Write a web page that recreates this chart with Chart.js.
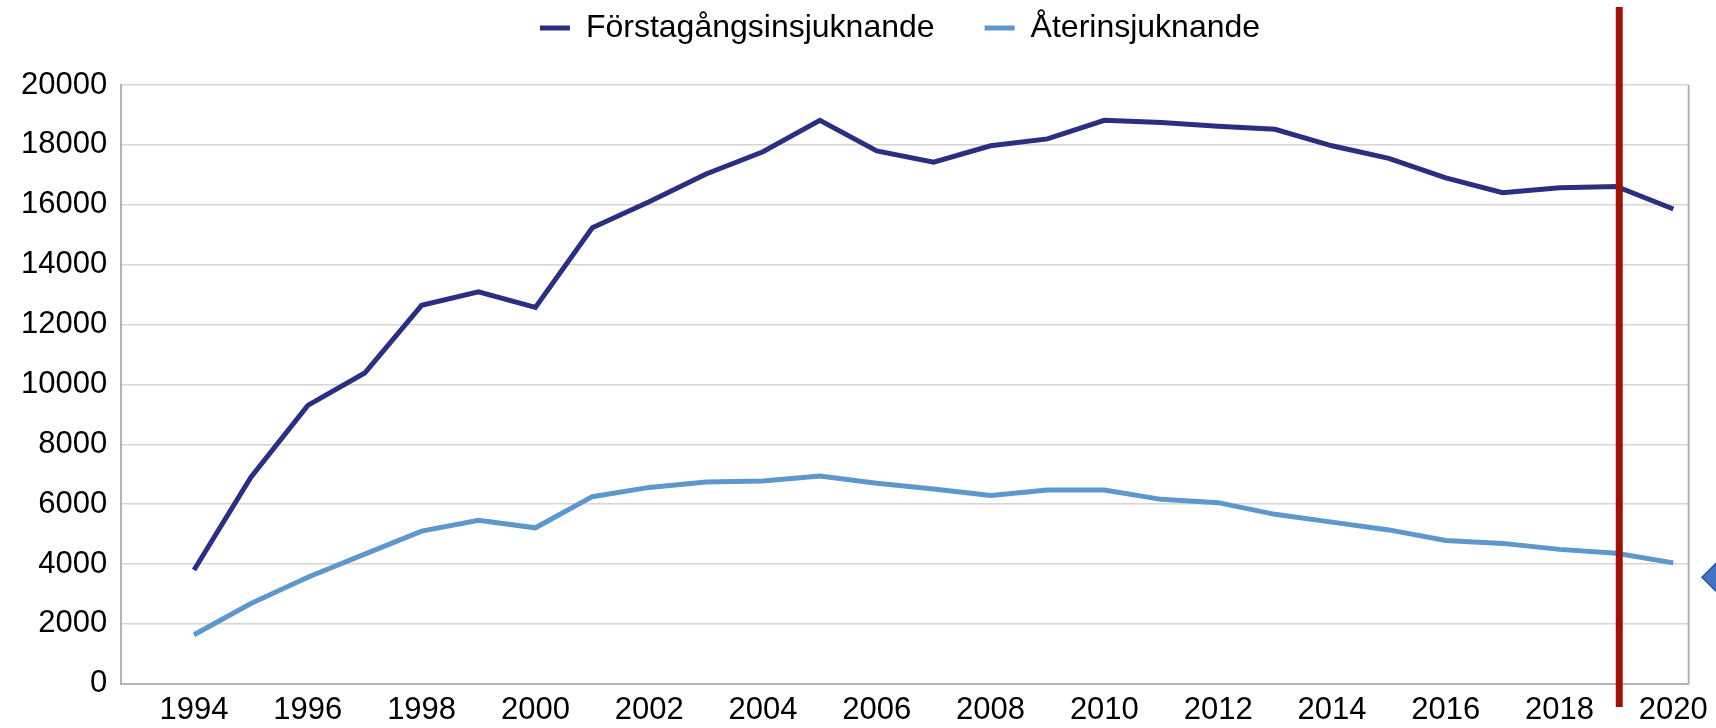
<!DOCTYPE html>
<html>
<head>
<meta charset="utf-8">
<script src="https://cdn.jsdelivr.net/npm/chart.js@4/dist/chart.umd.min.js"></script>
<style>
  html, body { margin: 0; padding: 0; background: #fff; }
  #wrap { width: 1716px; height: 728px; position: relative; }
</style>
</head>
<body>
<div id="wrap"><canvas id="insjuknandeChart"></canvas></div>
<script>
// Årtal och antal insjuknade
const years = [1994, 1995, 1996, 1997, 1998, 1999, 2000, 2001, 2002, 2003, 2004, 2005, 2006, 2007,
               2008, 2009, 2010, 2011, 2012, 2013, 2014, 2015, 2016, 2017, 2018, 2019, 2020];
const forstagangs = [3800, 6900, 9300, 10380, 12640, 13090, 12570, 15230, 16100, 17030, 17770, 18820, 17800, 17420,
                     17970, 18200, 18820, 18750, 18620, 18520, 17970, 17550, 16900, 16400, 16570, 16610, 15860];
const aterinsjuknande = [1640, 2680, 3560, 4330, 5100, 5460, 5210, 6250, 6560, 6740, 6770, 6940, 6700, 6510,
                         6290, 6470, 6470, 6160, 6050, 5660, 5400, 5140, 4790, 4690, 4490, 4360, 4040];
const yTicks = [0, 2000, 4000, 6000, 8000, 10000, 12000, 14000, 16000, 18000, 20000];
const xTickYears = [1994, 1996, 1998, 2000, 2002, 2004, 2006, 2008, 2010, 2012, 2014, 2016, 2018, 2020];
const markerYear = 2019.05;   // röd markeringslinje
const diamondValue = 3560;    // blå romb i högerkanten

Chart.defaults.font.family = "'Liberation Sans', Arial, sans-serif";
Chart.defaults.font.size = 31;
Chart.defaults.color = '#000';

const toPoints = arr => arr.map((v, i) => ({ x: years[i], y: v }));

// legenden: fast höjd och lite förskjuten åt höger
const legendBox = {
  id: 'legendBox',
  beforeInit(chart) {
    const fit = chart.legend.fit;
    chart.legend.fit = function () {
      fit.bind(chart.legend)();
      this.height = 123;
    };
  },
  afterLayout(chart) {
    chart.legend.left += 98;
  }
};

// ram, röd linje och romb
const extras = {
  id: 'extras',
  afterDraw(chart) {
    const { ctx, chartArea, scales } = chart;
    ctx.save();
    ctx.strokeStyle = '#b3b3b3';
    ctx.lineWidth = 2;
    ctx.beginPath();
    ctx.moveTo(chartArea.right, chartArea.top);
    ctx.lineTo(chartArea.right, chartArea.bottom);
    ctx.stroke();

    const mx = scales.x.getPixelForValue(markerYear);
    ctx.strokeStyle = '#9c1309';
    ctx.lineWidth = 7;
    ctx.beginPath();
    ctx.moveTo(mx, 7);
    ctx.lineTo(mx, 707);
    ctx.stroke();

    const dx = chart.width;
    const dy = scales.y.getPixelForValue(diamondValue);
    ctx.fillStyle = '#4472c4';
    ctx.strokeStyle = '#2f528f';
    ctx.lineWidth = 1.5;
    ctx.beginPath();
    ctx.moveTo(dx - 14, dy);
    ctx.lineTo(dx, dy - 14);
    ctx.lineTo(dx + 14, dy);
    ctx.lineTo(dx, dy + 14);
    ctx.closePath();
    ctx.fill();
    ctx.stroke();
    ctx.restore();
  }
};

const ctx = document.getElementById('insjuknandeChart').getContext('2d');
const chart = new Chart(ctx, {
  type: 'line',
  data: {
    datasets: [
      {
        label: 'Förstagångsinsjuknande',
        data: toPoints(forstagangs),
        borderColor: '#2b2f7f',
        backgroundColor: '#2b2f7f',
        borderWidth: 5,
        pointRadius: 0,
        tension: 0
      },
      {
        label: 'Återinsjuknande',
        data: toPoints(aterinsjuknande),
        borderColor: '#5e97cc',
        backgroundColor: '#5e97cc',
        borderWidth: 5,
        pointRadius: 0,
        tension: 0
      }
    ]
  },
  options: {
    responsive: true,
    maintainAspectRatio: false,
    animation: false,
    layout: { padding: { top: -38, left: 7, right: 21, bottom: -9 } },
    plugins: {
      legend: {
        position: 'top',
        labels: {
          usePointStyle: true,
          pointStyle: 'line',
          pointStyleWidth: 30,
          padding: 50,
          font: { size: 32 }
        }
      },
      tooltip: { enabled: false }
    },
    scales: {
      x: {
        type: 'linear',
        min: 1992.72,
        max: 2020.27,
        afterBuildTicks: scale => { scale.ticks = xTickYears.map(v => ({ value: v })); },
        grid: { display: false, drawTicks: false },
        border: { display: true, color: '#b3b3b3', width: 2 },
        ticks: {
          padding: 8,
          maxRotation: 0,
          autoSkip: false,
          callback: v => String(v)
        }
      },
      y: {
        min: 0,
        max: 20000,
        afterBuildTicks: scale => { scale.ticks = yTicks.map(v => ({ value: v })); },
        grid: { color: '#d6d6d6', lineWidth: 1.5, drawTicks: false },
        border: { display: true, color: '#b3b3b3', width: 2 },
        ticks: { padding: 14, callback: v => String(v) }
      }
    }
  },
  plugins: [legendBox, extras]
});
</script>
</body>
</html>
